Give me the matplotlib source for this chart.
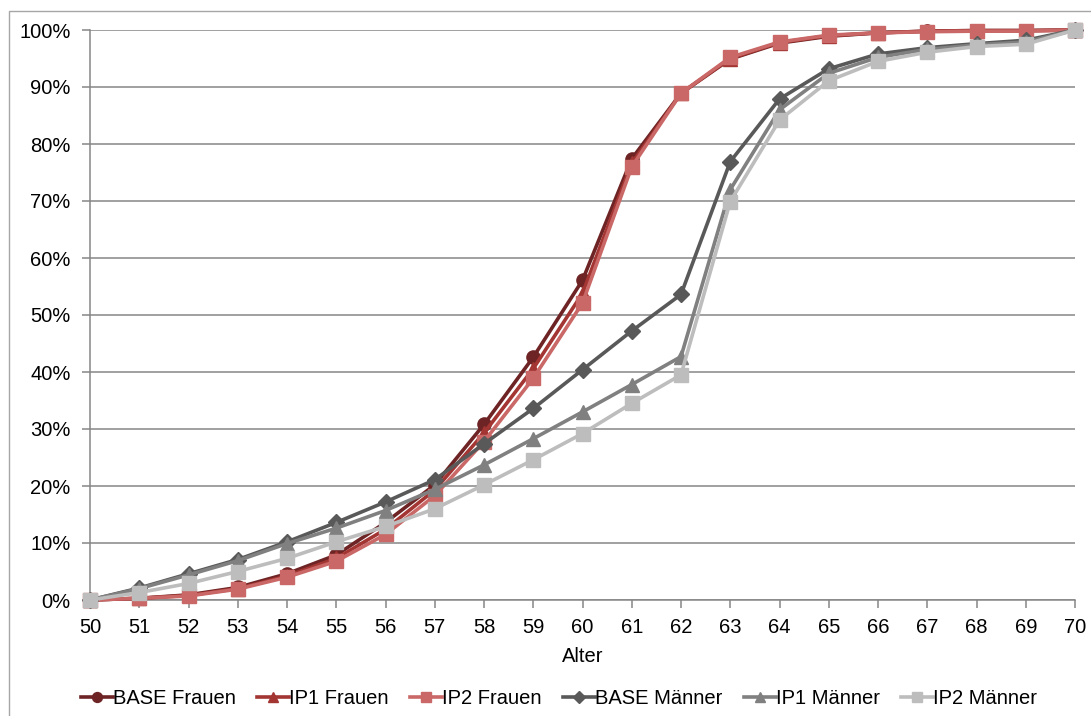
import matplotlib
matplotlib.use("Agg")
import matplotlib.pyplot as plt
from matplotlib.patches import Rectangle
from matplotlib.ticker import FuncFormatter, MultipleLocator

plt.rcParams['font.family'] = ['Liberation Sans', 'DejaVu Sans']

alter = list(range(50, 71))

base_frauen = [0, 0.3, 0.9, 2.2, 4.6, 7.9, 13.6, 20.2, 30.8, 42.6, 56.1, 77.4, 88.9, 94.9, 97.7, 98.9, 99.5, 99.8, 99.9, 99.9, 100]
ip1_frauen = [0, 0.3, 0.8, 2.0, 4.2, 7.3, 12.4, 19.3, 29.3, 40.6, 53.8, 76.6, 88.9, 95.0, 97.8, 99.0, 99.5, 99.8, 99.9, 99.9, 100]
ip2_frauen = [0, 0.3, 0.7, 1.9, 4.0, 6.8, 11.5, 18.3, 27.8, 38.9, 52.1, 76.0, 88.9, 95.2, 97.9, 99.1, 99.5, 99.7, 99.8, 99.8, 100]
base_maenner = [0, 2.1, 4.6, 7.1, 10.2, 13.6, 17.2, 21.1, 27.4, 33.6, 40.4, 47.2, 53.6, 76.9, 87.9, 93.2, 95.8, 96.9, 97.6, 98.2, 100]
ip1_maenner = [0, 2.0, 4.4, 6.9, 9.9, 12.6, 15.7, 19.4, 23.7, 28.3, 33.0, 37.8, 42.7, 72.0, 86.0, 92.4, 95.2, 96.6, 97.4, 97.9, 100]
ip2_maenner = [0, 1.3, 2.9, 5.0, 7.3, 10.2, 12.9, 16.0, 20.2, 24.6, 29.2, 34.5, 39.5, 69.9, 84.2, 91.1, 94.5, 96.1, 97.1, 97.5, 100]

series = [
    ("BASE Frauen", base_frauen, "#6E2424", "o", 9.5),
    ("IP1 Frauen", ip1_frauen, "#A33533", "^", 9.5),
    ("IP2 Frauen", ip2_frauen, "#C96866", "s", 10.5),
    ("BASE Männer", base_maenner, "#595959", "D", 8),
    ("IP1 Männer", ip1_maenner, "#808080", "^", 9.5),
    ("IP2 Männer", ip2_maenner, "#BDBDBD", "s", 10.5),
]

fig = plt.figure(figsize=(10.91, 7.16), dpi=100)
W, H = 1091, 716
ax = fig.add_axes([90 / W, 1 - 600 / H, (1075 - 90) / W, (600 - 30) / H])

# outer chart border (right and bottom edges run off the canvas)
fig.patches.append(Rectangle((9 / W, -0.05), 1.2, 1 - 11 / H + 0.05,
                             transform=fig.transFigure, fill=False,
                             edgecolor="#A6A6A6", linewidth=1.0))

for name, vals, color, marker, ms in series:
    ax.plot(alter, vals, color=color, marker=marker, markersize=ms,
            linewidth=2.6, label=name, clip_on=False, zorder=3)

ax.set_xlim(50, 70)
ax.set_ylim(0, 100)
ax.xaxis.set_major_locator(MultipleLocator(1))
ax.yaxis.set_major_locator(MultipleLocator(10))
ax.yaxis.set_major_formatter(FuncFormatter(lambda v, p: f"{v:.0f}%"))

ax.grid(axis="y", color="#868686", linewidth=1.1)
ax.set_axisbelow(True)
for s in ["top", "right"]:
    ax.spines[s].set_visible(False)
for s in ["left", "bottom"]:
    ax.spines[s].set_color("#868686")
    ax.spines[s].set_linewidth(1.1)
ax.tick_params(axis="both", colors="#868686", labelcolor="black",
               labelsize=14.5, length=6, width=1.1)
ax.tick_params(axis="x", pad=7)
ax.tick_params(axis="y", pad=8)

ax.set_xlabel("Alter", fontsize=14.5, labelpad=7)

fig.legend(loc="center", bbox_to_anchor=(559 / W, 1 - 699 / H), ncol=6,
           frameon=False, fontsize=14.5, handlelength=1.6, handletextpad=0.0,
           columnspacing=1.05, markerscale=0.75)

fig.savefig("out.png", dpi=100)
